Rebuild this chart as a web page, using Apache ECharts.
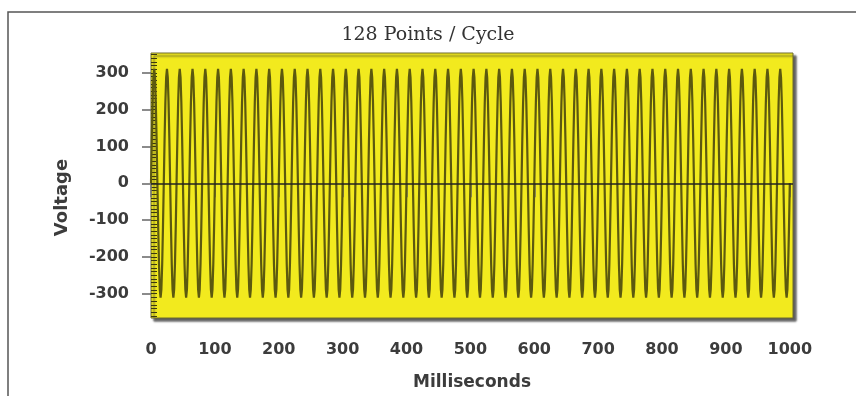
<!DOCTYPE html>
<html>
<head>
<meta charset="utf-8">
<script src="https://cdn.jsdelivr.net/npm/echarts@6/dist/echarts.min.js"></script>
<style>
    html, body { margin: 0; padding: 0; background: #ffffff; }
    #chart { width: 856px; height: 396px; }
</style>
</head>
<body>
<div id="chart"></div>
<script>
// one cycle of the trace (volts): 50 Hz, ~311 V peak
const cycleVolts = [0, 119, 220, 288, 311, 288, 220, 119, 0, -119, -220, -288, -311, -288, -220, -119];
const cycleMs = 20;
const cycleCount = 50;

const msTicks = [0, 100, 200, 300, 400, 500, 600, 700, 800, 900, 1000];
const voltTicks = [-300, -200, -100, 0, 100, 200, 300];

// x positions come from the sample index, y from the cycle above
let wave = [];
const step = cycleMs / cycleVolts.length;
for (let c = 0; c < cycleCount; c++) {
    for (let i = 0; i < cycleVolts.length; i++) {
        wave.push([(c * cycleVolts.length + i) * step, cycleVolts[i]]);
    }
}
wave.push([cycleCount * cycleMs, cycleVolts[0]]);

// small inside ticks on the left edge, every 10 V
let minorTicks = [];
for (let v = -360; v <= 350; v += 10) minorTicks.push(v);

const labelFont = {
    fontFamily: 'DejaVu Sans',
    fontWeight: 'bold',
    fontSize: 16,
    color: '#3c3c3c'
};

const chart = echarts.init(document.getElementById('chart'), null, { renderer: 'canvas' });

chart.setOption({
    animation: false,
    title: {
        text: '128 Points / Cycle',
        left: 'center',
        top: 21,
        textStyle: {
            fontFamily: 'DejaVu Serif',
            fontWeight: 'normal',
            fontSize: 19,
            color: '#333'
        }
    },
    graphic: [{
        type: 'polyline',
        shape: { points: [[8, 396], [8, 12], [856, 12]] },
        style: { stroke: '#555', lineWidth: 1.5, fill: null },
        silent: true
    }],
    grid: {
        left: 151,
        top: 53,
        width: 642,
        height: 265,
        show: true,
        backgroundColor: '#f2ea1e',
        borderColor: '#6d6a2e',
        borderWidth: 1,
        shadowColor: 'rgba(40,40,40,0.75)',
        shadowBlur: 2,
        shadowOffsetX: 3,
        shadowOffsetY: 3
    },
    xAxis: {
        type: 'value',
        min: 0,
        max: 1005,
        name: 'Milliseconds',
        nameLocation: 'middle',
        nameGap: 56,
        nameTextStyle: Object.assign({}, labelFont, { fontSize: 17 }),
        axisLine: { show: false },
        splitLine: { show: false },
        axisTick: {
            customValues: msTicks,
            length: 14,
            lineStyle: { color: '#777', width: 1.5 }
        },
        axisLabel: Object.assign({
            customValues: msTicks,
            margin: 24,
            formatter: function (v) { return String(v); }
        }, labelFont)
    },
    yAxis: [{
        type: 'value',
        min: -366,
        max: 354,
        name: 'Voltage',
        nameLocation: 'middle',
        nameGap: 80,
        nameTextStyle: Object.assign({}, labelFont, { fontSize: 18, padding: [0, 24, 0, 0] }),
        axisLine: { show: false },
        splitLine: { show: false },
        axisTick: {
            customValues: voltTicks,
            length: 9,
            lineStyle: { color: '#666', width: 1.5 }
        },
        axisLabel: Object.assign({ customValues: voltTicks, margin: 22 }, labelFont)
    }, {
        type: 'value',
        min: -366,
        max: 354,
        position: 'left',
        axisLine: { show: false },
        splitLine: { show: false },
        axisLabel: { show: false },
        axisTick: {
            inside: true,
            customValues: minorTicks,
            length: 6,
            lineStyle: { color: '#3a3810', width: 1 }
        }
    }],
    series: [{
        type: 'line',
        data: wave,
        showSymbol: false,
        sampling: 'none',
        silent: true,
        lineStyle: { color: '#5c590f', width: 2.2 },
        markLine: {
            silent: true,
            symbol: 'none',
            label: { show: false },
            lineStyle: { color: '#222', width: 1.5, type: 'solid' },
            data: [{ yAxis: 0 }]
        }
    }]
});
</script>
</body>
</html>
